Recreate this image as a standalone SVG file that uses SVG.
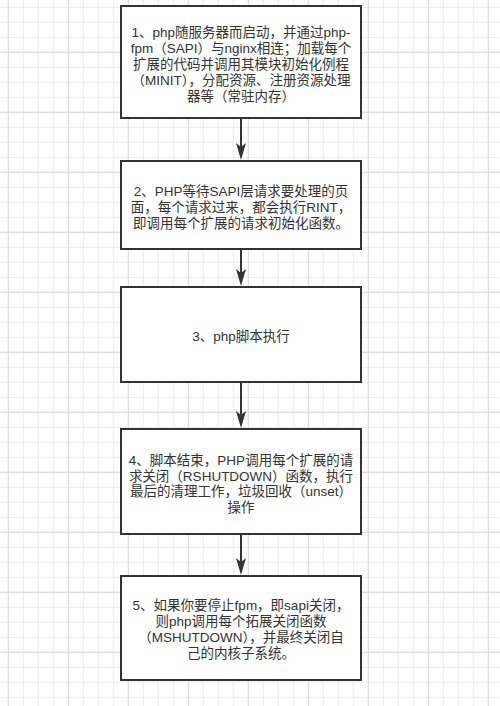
<svg xmlns="http://www.w3.org/2000/svg" width="500" height="706" viewBox="0 0 500 706">
  <style>
    .box { fill: #ffffff; stroke: #333333; stroke-width: 2; }
    .lbl { font-family: "Liberation Sans", "Noto Sans CJK SC", sans-serif; font-size: 13.5px; fill: #333333; text-anchor: middle; }
    .edge { stroke: #333333; stroke-width: 2; fill: none; }
  </style>
  <defs>
    <pattern id="minor" patternUnits="userSpaceOnUse" x="7.8" y="6.8" width="15" height="15">
      <path d="M0 0.5 H15 M0.5 0 V15" stroke="#ebebeb" stroke-width="1" fill="none"/>
    </pattern>
    <pattern id="major" patternUnits="userSpaceOnUse" x="7.8" y="-8.2" width="60" height="60">
      <path d="M0 0.5 H60 M0.5 0 V60" stroke="#dadada" stroke-width="1" fill="none"/>
    </pattern>
    <marker id="arrow" markerUnits="userSpaceOnUse" markerWidth="18" markerHeight="11" refX="4" refY="5" orient="auto">
      <path d="M0 0 L17 5 L0 10 L4 5 Z" fill="#333333"/>
    </marker>
  </defs>
  <rect width="500" height="706" fill="#ffffff"/>
  <rect width="500" height="706" fill="url(#minor)"/>
  <rect width="500" height="706" fill="url(#major)"/>

  <g id="connectors">
    <line class="edge" x1="241" y1="119" x2="241" y2="147" marker-end="url(#arrow)"/>
    <line class="edge" x1="241" y1="250" x2="241" y2="273" marker-end="url(#arrow)"/>
    <line class="edge" x1="241" y1="383" x2="241" y2="415" marker-end="url(#arrow)"/>
    <line class="edge" x1="241" y1="535" x2="241" y2="562" marker-end="url(#arrow)"/>
  </g>

  <g id="node1">
    <rect class="box" x="121" y="6" width="240" height="112"/>
    <text class="lbl" x="241" y="36.5">1、php随服务器而启动，并通过php-</text>
    <text class="lbl" x="241" y="52.5">fpm（SAPI）与nginx相连；加载每个</text>
    <text class="lbl" x="241" y="68.5">扩展的代码并调用其模块初始化例程</text>
    <text class="lbl" x="241" y="84.5">（MINIT），分配资源、注册资源处理</text>
    <text class="lbl" x="241" y="100.5">器等（常驻内存）</text>
  </g>

  <g id="node2">
    <rect class="box" x="121" y="161" width="240" height="88"/>
    <text class="lbl" x="241" y="196">2、PHP等待SAPI层请求要处理的页</text>
    <text class="lbl" x="241" y="212">面，每个请求过来，都会执行RINT，</text>
    <text class="lbl" x="241" y="227.5">即调用每个扩展的请求初始化函数。</text>
  </g>

  <g id="node3">
    <rect class="box" x="121" y="287" width="240" height="95"/>
    <text class="lbl" x="241" y="341">3、php脚本执行</text>
  </g>

  <g id="node4">
    <rect class="box" x="121" y="429" width="240" height="105"/>
    <text class="lbl" x="241" y="464.5">4、脚本结束，PHP调用每个扩展的请</text>
    <text class="lbl" x="241" y="480.5">求关闭（RSHUTDOWN）函数，执行</text>
    <text class="lbl" x="241" y="496">最后的清理工作，垃圾回收（unset）</text>
    <text class="lbl" x="241" y="512">操作</text>
  </g>

  <g id="node5">
    <rect class="box" x="121" y="576" width="240" height="104"/>
    <text class="lbl" x="241" y="610">5、如果你要停止fpm，即sapi关闭，</text>
    <text class="lbl" x="241" y="626">则php调用每个拓展关闭函数</text>
    <text class="lbl" x="241" y="642">（MSHUTDOWN），并最终关闭自</text>
    <text class="lbl" x="241" y="658">己的内核子系统。</text>
  </g>
</svg>
